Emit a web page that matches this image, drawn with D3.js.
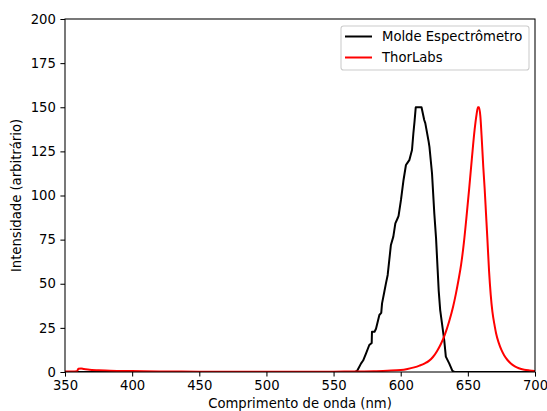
<!DOCTYPE html>
<html>
<head>
<meta charset="utf-8">
<script src="https://cdn.jsdelivr.net/npm/d3@7"></script>
<style>
  html, body { margin: 0; padding: 0; background: #fff; }
  svg { display: block; font-family: "DejaVu Sans", sans-serif; }
</style>
</head>
<body>
<svg id="chart" width="547" height="411"></svg>
<script>
// ---- data ----
const xTicks = [350, 400, 450, 500, 550, 600, 650, 700];
const yTicks = [0, 25, 50, 75, 100, 125, 150, 175, 200];
const seriesNames = ["Molde Espectrômetro", "ThorLabs"];

const moldeWavelength = [350, 566, 567.5, 570.5, 572, 574.2, 576.6, 578.4, 578.6, 580.5, 581.6, 584.1, 585.5, 586.1, 587.8, 589, 590.3, 591.5, 592.7, 594.5, 596, 597.7, 598.4, 600.2, 602.1, 603.9, 605, 606.4, 608.4, 609.4, 610.3, 611.2, 615.5, 617.5, 618.3, 620.8, 621.4, 623.3, 625, 626.3, 627.5, 628.3, 629.4, 632.4, 633.6, 636.1, 638.5, 640, 700];
const moldeIntensity  = [0, 0, 0.6, 4.9, 6.5, 10.6, 15.3, 16.5, 22.8, 22.8, 24.5, 32.3, 33.5, 38.9, 45.5, 50.2, 55, 63.5, 72, 76.7, 84.2, 87.1, 88.4, 97.5, 108.8, 117.3, 118.5, 120, 125.8, 135, 142, 150, 150, 142.8, 141, 130.5, 127.6, 112.6, 90, 76, 58, 46, 35.1, 18.1, 8.7, 4.9, 0.6, 0, 0];

const thorWavelength = [350, 355, 359, 360, 362, 364, 367, 370, 375, 380, 390, 400, 420, 450, 500, 550, 570, 580, 590, 600, 605, 610, 614, 618, 621, 624, 627, 630, 633, 636, 639, 641, 643, 645, 647, 649, 651, 653, 655, 656.5, 657.5, 658.3, 659.3, 660.5, 661.5, 662.5, 663.5, 664.5, 665.8, 667, 668.3, 670, 671, 673, 675, 677, 679.5, 682, 685, 688, 692, 696, 700];
const thorIntensity  = [0.3, 0.3, 0.5, 1.8, 2.0, 1.7, 1.4, 1.2, 1.0, 0.8, 0.6, 0.5, 0.3, 0.2, 0.15, 0.2, 0.3, 0.4, 0.7, 1.1, 1.7, 2.6, 3.6, 4.9, 6.3, 8.5, 11.8, 16, 21.5, 28.5, 37, 44, 52, 61, 73, 88, 104, 121, 137, 146, 150, 150, 145, 130, 116, 104, 90, 76, 57, 44, 34, 26, 22, 16.5, 12.5, 9.5, 6.8, 4.8, 3.2, 2.1, 1.3, 0.9, 0.6];

// ---- layout ----
const W = 547, H = 411;
const m = { left: 65, right: 12, top: 19, bottom: 39 };
const iw = W - m.left - m.right, ih = H - m.top - m.bottom;
const fs = 13.2;
const tickLen = 4.6;

const svg = d3.select("#chart");
const x = d3.scaleLinear().domain([350, 700]).range([0, iw]);
const y = d3.scaleLinear().domain([0, 200]).range([ih, 0]);

const g = svg.append("g").attr("transform", `translate(${m.left},${m.top})`);

svg.append("defs").append("clipPath").attr("id", "clip")
  .append("rect").attr("x", 0).attr("y", 0).attr("width", iw).attr("height", ih);

const molde = moldeWavelength.map((w, i) => [w, moldeIntensity[i]]);
const thor = thorWavelength.map((w, i) => [w, thorIntensity[i]]);

const plot = g.append("g").attr("clip-path", "url(#clip)");
plot.append("path").datum(molde)
  .attr("d", d3.line().x(d => x(d[0])).y(d => y(d[1])))
  .attr("fill", "none").attr("stroke", "#000000")
  .attr("stroke-width", 2).attr("stroke-linejoin", "round");
plot.append("path").datum(thor)
  .attr("d", d3.line().x(d => x(d[0])).y(d => y(d[1])).curve(d3.curveMonotoneX))
  .attr("fill", "none").attr("stroke", "#ff0000")
  .attr("stroke-width", 2).attr("stroke-linejoin", "round");

// axes
const xAxis = d3.axisBottom(x).tickValues(xTicks).tickSize(tickLen).tickPadding(4.4).tickFormat(d3.format("d"));
const yAxis = d3.axisLeft(y).tickValues(yTicks).tickSize(tickLen).tickPadding(4.6).tickFormat(d3.format("d"));

const gx = g.append("g").attr("transform", `translate(0,${ih})`).call(xAxis);
const gy = g.append("g").call(yAxis);
[gx, gy].forEach(a => {
  a.select(".domain").remove();
  a.selectAll(".tick line").attr("stroke", "#000").attr("stroke-width", 1.05);
  a.selectAll(".tick text").attr("fill", "#000").style("font-size", fs + "px")
    .style("font-family", "'DejaVu Sans', sans-serif");
});

// spines
g.append("rect").attr("x", 0).attr("y", 0).attr("width", iw).attr("height", ih)
  .attr("fill", "none").attr("stroke", "#000").attr("stroke-width", 1.05);

// axis labels
svg.append("text").attr("x", m.left + iw / 2).attr("y", 408.3)
  .attr("text-anchor", "middle").style("font-size", fs + "px").attr("fill", "#000")
  .text("Comprimento de onda (nm)");
svg.append("text")
  .attr("transform", `translate(21,${m.top + ih / 2}) rotate(-90)`)
  .attr("text-anchor", "middle").style("font-size", fs + "px").attr("fill", "#000")
  .text("Intensidade (arbitrário)");

// legend
const lg = svg.append("g");
lg.append("rect").attr("x", 341).attr("y", 26).attr("width", 188).attr("height", 44)
  .attr("rx", 2.6).attr("ry", 2.6)
  .attr("fill", "#fff").attr("fill-opacity", 0.8)
  .attr("stroke", "#cccccc").attr("stroke-width", 1.05);
const legColors = ["#000000", "#ff0000"];
seriesNames.forEach((name, i) => {
  const yy = 36.5 + i * 21;
  lg.append("line").attr("x1", 345).attr("x2", 372).attr("y1", yy).attr("y2", yy)
    .attr("stroke", legColors[i]).attr("stroke-width", 2);
  lg.append("text").attr("x", 382).attr("y", yy).attr("dy", "0.35em")
    .style("font-size", fs + "px").attr("fill", "#000").text(name);
});
</script>
</body>
</html>
